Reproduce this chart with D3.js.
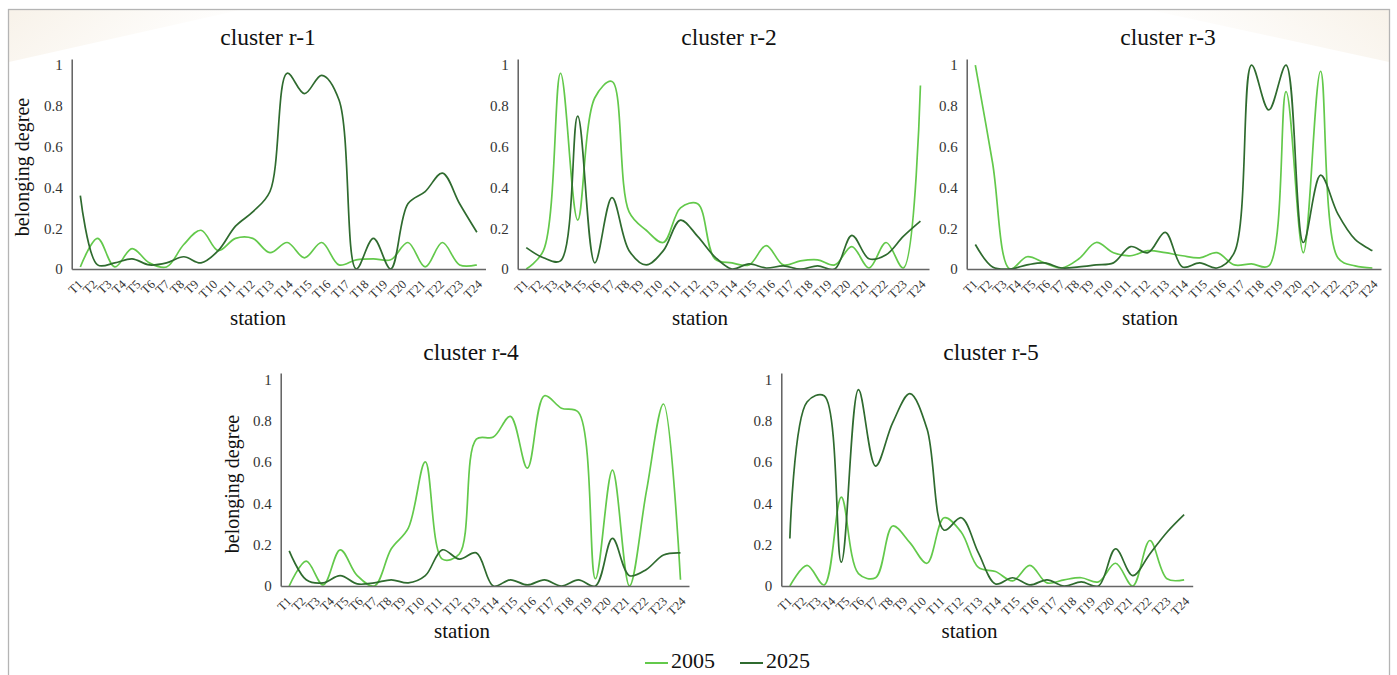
<!DOCTYPE html>
<html>
<head>
<meta charset="utf-8">
<script src="https://cdn.jsdelivr.net/npm/d3@7"></script>
<style>
  body { margin: 0; background: #fff; }
  svg { display: block; font-family: "Liberation Serif", "Times New Roman", serif; }
</style>
</head>
<body>
<div id="chart"></div>
<script>
const stations = ["T1","T2","T3","T4","T5","T6","T7","T8","T9","T10","T11","T12",
                  "T13","T14","T15","T16","T17","T18","T19","T20","T21","T22","T23","T24"];
const yTicks = [0, 0.2, 0.4, 0.6, 0.8, 1];
const years = ["2005", "2025"];

// belonging degree per station
const r1_2005 = [0.01,0.15,0.01,0.10,0.03,0.01,0.12,0.19,0.09,0.15,0.15,0.08,0.13,0.055,0.13,0.02,0.045,0.05,0.045,0.13,0.01,0.13,0.02,0.02];
const r1_2025 = [0.36,0.02,0.03,0.05,0.02,0.03,0.06,0.03,0.09,0.21,0.28,0.38,0.96,0.86,0.95,0.83,0,0.15,0,0.32,0.38,0.47,0.32,0.18];
const r2_2005 = [0,0.09,0.96,0.24,0.84,0.92,0.28,0.19,0.13,0.30,0.32,0.05,0.03,0.02,0.115,0.02,0.04,0.045,0.02,0.11,0.005,0.13,0.005,0.90];
const r2_2025 = [0.105,0.055,0.04,0.75,0.03,0.35,0.09,0.02,0.09,0.24,0.16,0.06,0,0.025,0.005,0.015,0,0.015,0,0.165,0.05,0.07,0.16,0.235];
const r3_2005 = [1.0,0.52,0,0.06,0.03,0.005,0.05,0.13,0.08,0.065,0.09,0.08,0.065,0.055,0.08,0.02,0.025,0.015,0.87,0.08,0.97,0.055,0.015,0.005];
const r3_2025 = [0.12,0.01,0,0.02,0.03,0.005,0.01,0.02,0.03,0.11,0.08,0.18,0.01,0.03,0.005,0.08,1.0,0.78,1.0,0.13,0.46,0.27,0.145,0.09];
const r4_2005 = [0,0.12,0.005,0.175,0.05,0,0.18,0.28,0.60,0.13,0.155,0.71,0.72,0.82,0.57,0.92,0.86,0.84,0.035,0.56,0,0.46,0.88,0.03];
const r4_2025 = [0.17,0.03,0.015,0.05,0.01,0.015,0.03,0.015,0.05,0.175,0.13,0.16,0,0.03,0.005,0.03,0,0.03,0,0.23,0.05,0.08,0.15,0.16];
const r5_2005 = [0,0.10,0.005,0.43,0.06,0.04,0.29,0.21,0.11,0.33,0.26,0.09,0.07,0.025,0.10,0.015,0.03,0.04,0.02,0.11,0,0.22,0.035,0.03];
const r5_2025 = [0.23,0.89,0.92,0.115,0.95,0.58,0.79,0.93,0.76,0.27,0.33,0.16,0.01,0.04,0.005,0.03,0,0.02,0,0.18,0.05,0.155,0.26,0.345];

const colors = { "2005": "#63c94b", "2025": "#2f6b2f" };

const panels = [
  { title: "cluster r-1", s2005: r1_2005, s2025: r1_2025, x0: 71.7,  x1: 485.5,  y0: 269, top: 59,  tx: 268,  ty: 45,  sx: 258,   sy: 325, ylab: [28.5, 167] },
  { title: "cluster r-2", s2005: r2_2005, s2025: r2_2025, x0: 517.7, x1: 929,    y0: 269, top: 59,  tx: 729,  ty: 45,  sx: 700,   sy: 325 },
  { title: "cluster r-3", s2005: r3_2005, s2025: r3_2025, x0: 966.7, x1: 1381,   y0: 269, top: 59,  tx: 1168, ty: 45,  sx: 1150,  sy: 325 },
  { title: "cluster r-4", s2005: r4_2005, s2025: r4_2025, x0: 280.7, x1: 689,    y0: 586, top: 373, tx: 471,  ty: 360, sx: 462,   sy: 638, ylab: [239, 484] },
  { title: "cluster r-5", s2005: r5_2005, s2025: r5_2025, x0: 781.3, x1: 1192.7, y0: 586, top: 373, tx: 991,  ty: 360, sx: 969.5, sy: 638 }
];

const W = 1397, H = 675;
const svg = d3.select("#chart").append("svg")
    .attr("width", W)
    .attr("height", H);

// faint wash in the top corners and the frame
const defs = svg.append("defs");
const washL = defs.append("linearGradient").attr("id", "washL")
    .attr("x1", 0).attr("y1", 0).attr("x2", 1).attr("y2", 0.3);
washL.append("stop").attr("offset", 0).attr("stop-color", "#f6efe4").attr("stop-opacity", 0.8);
washL.append("stop").attr("offset", 1).attr("stop-color", "#f6efe4").attr("stop-opacity", 0);
const washR = defs.append("linearGradient").attr("id", "washR")
    .attr("x1", 1).attr("y1", 0).attr("x2", 0).attr("y2", 0.3);
washR.append("stop").attr("offset", 0).attr("stop-color", "#f6efe4").attr("stop-opacity", 0.8);
washR.append("stop").attr("offset", 1).attr("stop-color", "#f6efe4").attr("stop-opacity", 0);

svg.append("path")
    .attr("d", "M9,10 L240,10 L9,62 Z")
    .attr("fill", "url(#washL)");
svg.append("path")
    .attr("d", "M1150,10 L1389,10 L1389,62 Z")
    .attr("fill", "url(#washR)");
svg.append("rect")
    .attr("x", 8.5).attr("y", 9.5)
    .attr("width", 1381).attr("height", 700)
    .attr("fill", "none")
    .attr("stroke", "#b4b4b4")
    .attr("stroke-width", 1.3);

panels.forEach((p, pi) => {
    const x = d3.scalePoint()
        .domain(stations)
        .range([p.x0, p.x1])
        .padding(0.5);
    const y = d3.scaleLinear()
        .domain([0, 1.03])
        .range([p.y0, p.top]);

    const g = svg.append("g");

    const clipId = "clip" + pi;
    g.append("clipPath").attr("id", clipId)
      .append("rect")
        .attr("x", p.x0)
        .attr("y", p.top - 10)
        .attr("width", p.x1 - p.x0 + 4)
        .attr("height", p.y0 - p.top + 10);

    const line = d3.line()
        .x((d, i) => x(stations[i]))
        .y(d => y(d))
        .curve(d3.curveCatmullRom.alpha(0.5));

    years.forEach(yr => {
        g.append("path")
            .datum(p["s" + yr])
            .attr("clip-path", `url(#${clipId})`)
            .attr("fill", "none")
            .attr("stroke", colors[yr])
            .attr("stroke-width", 1.7)
            .attr("d", line);
    });

    // y axis
    const yAxis = g.append("g")
        .attr("transform", `translate(${p.x0},0)`)
        .call(d3.axisLeft(y).tickValues(yTicks).tickSize(0).tickPadding(9).tickFormat(d => String(d)));
    yAxis.select(".domain").attr("stroke", "#555").attr("stroke-width", 1.4);
    yAxis.selectAll("text")
        .attr("font-family", "Liberation Serif, serif")
        .attr("font-size", 15)
        .attr("fill", "#333");

    // x axis
    const xAxis = g.append("g")
        .attr("transform", `translate(0,${p.y0})`)
        .call(d3.axisBottom(x).tickSize(0).tickSizeOuter(0));
    xAxis.select(".domain").attr("stroke", "#666").attr("stroke-width", 1.4);
    xAxis.selectAll("text")
        .attr("font-family", "Liberation Serif, serif")
        .attr("font-size", 12.5)
        .attr("fill", "#333")
        .attr("text-anchor", "end")
        .attr("y", 0)
        .attr("dy", 0)
        .attr("transform", "rotate(-45)");

    // the labels in the figure run on one after another rather than sitting on fixed slots
    const ticks = xAxis.selectAll(".tick").nodes();
    const widths = ticks.map(t => t.querySelector("text").getComputedTextLength() * Math.SQRT1_2);
    const start = x(stations[0]) + 3;
    const end = x(stations[stations.length - 1]) + 6;
    const gap = ((end - start) - d3.sum(widths.slice(1))) / (widths.length - 1);
    let pos = start;
    ticks.forEach((t, i) => {
        if (i > 0) pos += widths[i] + gap;
        d3.select(t).attr("transform", `translate(${pos},16)`);
    });

    g.append("text")
        .attr("x", p.tx).attr("y", p.ty)
        .attr("text-anchor", "middle")
        .attr("font-size", 23.5)
        .attr("fill", "#111")
        .text(p.title);

    g.append("text")
        .attr("x", p.sx).attr("y", p.sy)
        .attr("text-anchor", "middle")
        .attr("font-size", 21)
        .attr("fill", "#111")
        .text("station");

    if (p.ylab) {
        g.append("text")
            .attr("transform", `translate(${p.ylab[0]},${p.ylab[1]}) rotate(-90)`)
            .attr("text-anchor", "middle")
            .attr("font-size", 20)
            .attr("fill", "#111")
            .text("belonging degree");
    }
});

// legend
const legend = svg.append("g").attr("transform", "translate(645,668)");
years.forEach((yr, i) => {
    const lg = legend.append("g").attr("transform", `translate(${i * 95},0)`);
    lg.append("line")
        .attr("x1", 0).attr("x2", 23)
        .attr("y1", -5).attr("y2", -5)
        .attr("stroke", colors[yr])
        .attr("stroke-width", 2);
    lg.append("text")
        .attr("x", 26).attr("y", 0)
        .attr("font-size", 22)
        .attr("fill", "#111")
        .text(yr);
});
</script>
</body>
</html>
